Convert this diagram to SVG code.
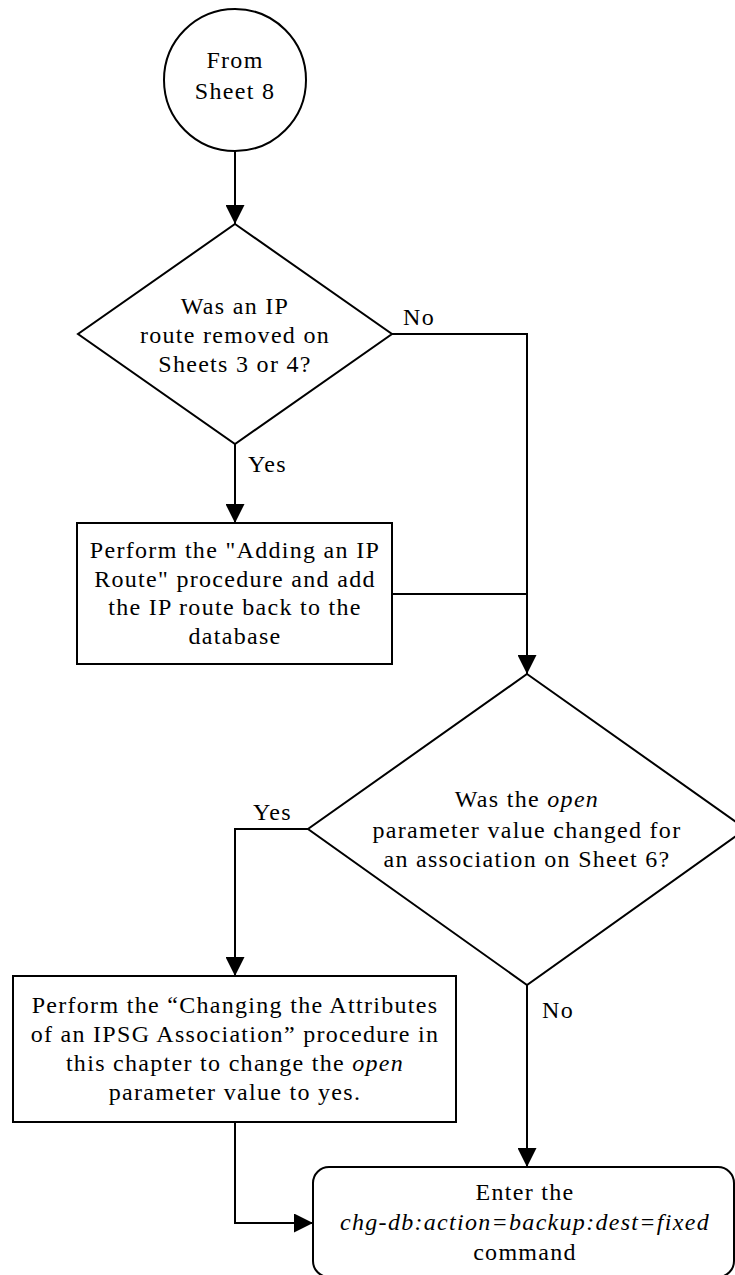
<svg xmlns="http://www.w3.org/2000/svg" width="735" height="1275" viewBox="0 0 735 1275">
<style>
.s{fill:#fff;stroke:#000;stroke-width:2}
.c{fill:none;stroke:#000;stroke-width:2}
text{font-family:"Liberation Serif","Times New Roman",serif;font-size:24px;letter-spacing:1.3px;fill:#000}
.m{text-anchor:middle}
.i{font-style:italic}
</style>
<defs>
<marker id="a" markerWidth="19" markerHeight="19" refX="19" refY="9.5" orient="auto" markerUnits="userSpaceOnUse"><path d="M0,0 L19,9.5 L0,19 z" fill="#000"/></marker>
</defs>
<rect width="735" height="1275" fill="#fff"/>
<g id="connectors">
<path class="c" d="M235,151 V224" marker-end="url(#a)"/>
<path class="c" d="M235,444 V523" marker-end="url(#a)"/>
<path class="c" d="M392,334 H527 V674" marker-end="url(#a)"/>
<path class="c" d="M392,594 H527"/>
<path class="c" d="M308,829 H235 V976" marker-end="url(#a)"/>
<path class="c" d="M527,985 V1167" marker-end="url(#a)"/>
<path class="c" d="M235,1122 V1223 H313" marker-end="url(#a)"/>
<text x="403" y="325">No</text>
<text x="248" y="472">Yes</text>
<text x="253" y="820">Yes</text>
<text x="542" y="1018">No</text>
</g>
<g id="start">
<circle class="s" cx="235" cy="80" r="71"/>
<text class="m" x="235" y="68">From</text>
<text class="m" x="235" y="99">Sheet 8</text>
</g>
<g id="decision1">
<polygon class="s" points="235,224 392,334 235,444 78,334"/>
<text class="m" x="235" y="314">Was an IP</text>
<text class="m" x="235" y="343">route removed on</text>
<text class="m" x="235" y="372">Sheets 3 or 4?</text>
</g>
<g id="addRoute">
<rect class="s" x="77" y="523" width="315" height="141"/>
<text class="m" x="235" y="558">Perform the "Adding an IP</text>
<text class="m" x="235" y="587">Route" procedure and add</text>
<text class="m" x="235" y="615">the IP route back to the</text>
<text class="m" x="235" y="644">database</text>
</g>
<g id="decision2">
<polygon class="s" points="527,674 746,829 527,985 308,829"/>
<text class="m" x="527" y="807">Was the <tspan class="i">open</tspan></text>
<text class="m" x="527" y="838">parameter value changed for</text>
<text class="m" x="527" y="867">an association on Sheet 6?</text>
</g>
<g id="changeAssoc">
<rect class="s" x="13" y="976" width="443" height="146"/>
<text class="m" x="235" y="1013">Perform the “Changing the Attributes</text>
<text class="m" x="235" y="1042">of an IPSG Association” procedure in</text>
<text class="m" x="235" y="1071">this chapter to change the <tspan class="i">open</tspan></text>
<text class="m" x="235" y="1100">parameter value to yes.</text>
</g>
<g id="backup">
<rect class="s" x="313" y="1167" width="421" height="110" rx="16" ry="16"/>
<text class="m" x="525" y="1200">Enter the</text>
<text class="m i" x="525" y="1230">chg-db:action=backup:dest=fixed</text>
<text class="m" x="525" y="1260">command</text>
</g>
</svg>
